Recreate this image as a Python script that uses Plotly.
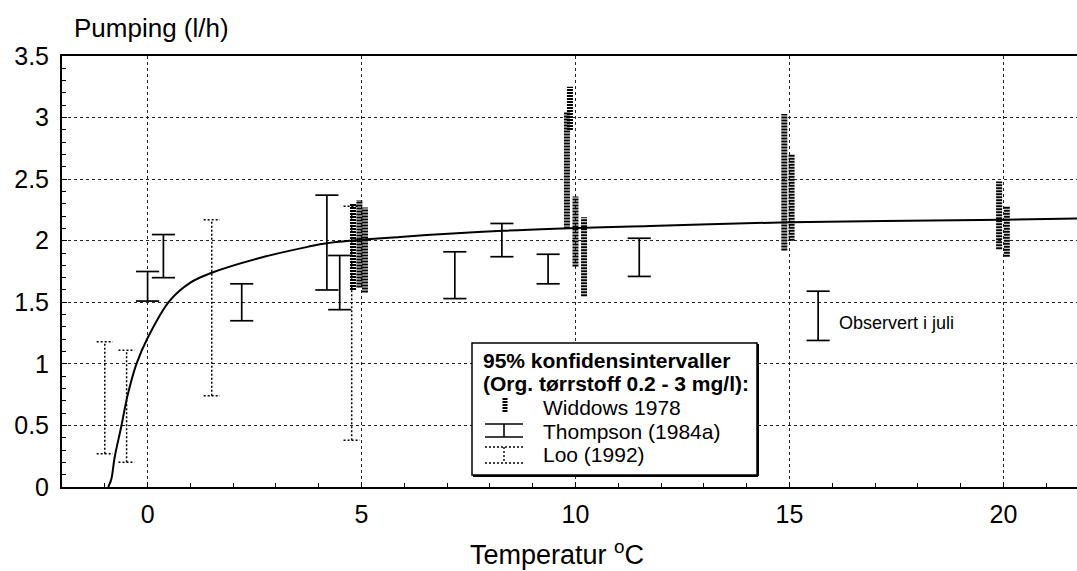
import plotly.graph_objects as go

# ---------------- data ----------------
# fitted curve
curve_x = [-0.92, -0.85, -0.77, -0.61, -0.47, -0.26, 0.0, 0.51, 1.0, 1.5, 2.62, 3.74, 4.19, 5.9, 8.3, 11.74, 15.0, 20.0, 21.72]
curve_y = [0.0, 0.06, 0.24, 0.50, 0.74, 1.00, 1.21, 1.51, 1.66, 1.74, 1.86, 1.95, 1.98, 2.03, 2.08, 2.12, 2.15, 2.17, 2.18]

# Widdows 1978 (dense hatched intervals)
widdows_x = [4.80, 4.95, 5.08, 9.80, 9.87, 10.00, 10.20, 14.88, 15.05, 19.90, 20.08]
widdows_lo = [1.60, 1.62, 1.58, 2.10, 2.90, 1.79, 1.55, 1.92, 2.00, 1.93, 1.87]
widdows_hi = [2.30, 2.33, 2.27, 3.05, 3.25, 2.36, 2.19, 3.03, 2.70, 2.48, 2.28]

# Thompson (1984a) solid intervals
thompson_x = [0.0, 0.37, 2.20, 4.19, 4.49, 7.18, 8.28, 9.36, 11.49]
thompson_lo = [1.51, 1.70, 1.35, 1.60, 1.44, 1.53, 1.87, 1.65, 1.71]
thompson_hi = [1.75, 2.05, 1.65, 2.37, 1.88, 1.91, 2.14, 1.89, 2.02]

# Loo (1992) dotted intervals
loo_x = [-1.00, -0.49, 1.50, 4.77]
loo_lo = [0.27, 0.20, 0.74, 0.38]
loo_hi = [1.18, 1.11, 2.17, 2.28]

# Observed in July
obs_x = [15.67]
obs_lo = [1.19]
obs_hi = [1.59]

x_ticks = [0, 5, 10, 15, 20]
x_tick_labels = ["0", "5", "10", "15", "20"]
y_ticks = [0, 0.5, 1, 1.5, 2, 2.5, 3, 3.5]
y_tick_labels = ["0", "0.5", "1", "1.5", "2", "2.5", "3", "3.5"]

# ---------------- styling ----------------
FONT = "Liberation Sans, Arial, Helvetica, sans-serif"
W, H = 1077, 571
ML, MR, MT, MB = 62, 0, 56, 84
PW, PH = W - ML - MR, H - MT - MB


def bars(xs, lo, hi, half):
    X, Y = [], []
    for x, a, b in zip(xs, lo, hi):
        X += [x, x, None, x - half, x + half, None, x - half, x + half, None]
        Y += [a, b, None, a, a, None, b, b, None]
    return X, Y


def stems(xs, lo, hi):
    X, Y = [], []
    for x, a, b in zip(xs, lo, hi):
        X += [x, x, None]
        Y += [a, b, None]
    return X, Y


fig = go.Figure()

# Loo dotted bars
lx, ly = bars(loo_x, loo_lo, loo_hi, 0.19)
fig.add_trace(go.Scatter(x=lx, y=ly, mode="lines", line=dict(color="black", width=1.5, dash="2px,2px"),
                         hoverinfo="skip", showlegend=False))

# Thompson solid bars
tx, ty = bars(thompson_x, thompson_lo, thompson_hi, 0.27)
fig.add_trace(go.Scatter(x=tx, y=ty, mode="lines", line=dict(color="black", width=1.7),
                         hoverinfo="skip", showlegend=False))

# Observed
ox, oy = bars(obs_x, obs_lo, obs_hi, 0.27)
fig.add_trace(go.Scatter(x=ox, y=oy, mode="lines", line=dict(color="black", width=1.7),
                         hoverinfo="skip", showlegend=False))

# Widdows hatched bars
wx, wy = stems(widdows_x, widdows_lo, widdows_hi)
fig.add_trace(go.Scatter(x=wx, y=wy, mode="lines", line=dict(color="black", width=6, dash="2px,1px"),
                         hoverinfo="skip", showlegend=False))

# Curve
fig.add_trace(go.Scatter(x=curve_x, y=curve_y, mode="lines", line=dict(color="black", width=2, shape="spline"),
                         hoverinfo="skip", showlegend=False))


def px(xp):
    return (xp - ML) / PW


def py(yp):
    return (MT + PH - yp) / PH


shapes = []
# legend box
shapes.append(dict(type="rect", xref="paper", yref="paper", x0=px(472), x1=px(757), y0=py(475), y1=py(343),
                   fillcolor="white", line=dict(color="black", width=1.5), layer="above"))
shapes.append(dict(type="line", xref="paper", yref="paper", x0=px(473), x1=px(758), y0=py(476), y1=py(476),
                   line=dict(color="black", width=2), layer="above"))
shapes.append(dict(type="line", xref="paper", yref="paper", x0=px(758), x1=px(758), y0=py(344), y1=py(476),
                   line=dict(color="black", width=2), layer="above"))
# Widdows symbol
shapes.append(dict(type="line", xref="paper", yref="paper", x0=px(505), x1=px(505), y0=py(398), y1=py(413),
                   line=dict(color="black", width=5, dash="2px,1px"), layer="above"))
# Thompson symbol
for seg in [((504, 424), (504, 437)), ((485, 424), (523, 424)), ((485, 437), (523, 437))]:
    shapes.append(dict(type="line", xref="paper", yref="paper", x0=px(seg[0][0]), x1=px(seg[1][0]),
                       y0=py(seg[0][1]), y1=py(seg[1][1]), line=dict(color="black", width=1.6), layer="above"))
# Loo symbol
for seg in [((504, 447), (504, 463)), ((485, 447), (523, 447)), ((485, 463), (523, 463))]:
    shapes.append(dict(type="line", xref="paper", yref="paper", x0=px(seg[0][0]), x1=px(seg[1][0]),
                       y0=py(seg[0][1]), y1=py(seg[1][1]), line=dict(color="black", width=1.4, dash="2px,2px"),
                       layer="above"))

annotations = [
    dict(text="<b>95% konfidensintervaller</b>", x=px(481), y=py(360), xref="paper", yref="paper",
         xanchor="left", yanchor="middle", showarrow=False, font=dict(family=FONT, size=21, color="black")),
    dict(text="<b>(Org. tørrstoff 0.2 - 3 mg/l):</b>", x=px(481), y=py(383), xref="paper", yref="paper",
         xanchor="left", yanchor="middle", showarrow=False, font=dict(family=FONT, size=21, color="black")),
    dict(text="Widdows 1978", x=px(541), y=py(407), xref="paper", yref="paper",
         xanchor="left", yanchor="middle", showarrow=False, font=dict(family=FONT, size=21, color="black")),
    dict(text="Thompson (1984a)", x=px(541), y=py(431), xref="paper", yref="paper",
         xanchor="left", yanchor="middle", showarrow=False, font=dict(family=FONT, size=21, color="black")),
    dict(text="Loo (1992)", x=px(541), y=py(454), xref="paper", yref="paper",
         xanchor="left", yanchor="middle", showarrow=False, font=dict(family=FONT, size=21, color="black")),
    dict(text="Observert i juli", x=px(837), y=py(323), xref="paper", yref="paper",
         xanchor="left", yanchor="middle", showarrow=False, font=dict(family=FONT, size=18, color="black")),
    dict(text="Pumping (l/h)", x=px(72), y=py(28), xref="paper", yref="paper",
         xanchor="left", yanchor="middle", showarrow=False, font=dict(family=FONT, size=26, color="black")),
    dict(text="Temperatur <sup>o</sup>C", x=px(557), y=py(553), xref="paper", yref="paper",
         xanchor="center", yanchor="middle", showarrow=False, font=dict(family=FONT, size=27, color="black")),
]

fig.update_layout(
    width=W, height=H, autosize=False,
    margin=dict(l=ML, r=MR, t=MT, b=MB, pad=0),
    paper_bgcolor="white", plot_bgcolor="white",
    shapes=shapes, annotations=annotations,
    showlegend=False,
    font=dict(family=FONT, color="black"),
)

fig.update_xaxes(
    range=[-2.0, 21.72], tickvals=x_ticks, ticktext=x_tick_labels,
    showgrid=True, gridcolor="#222", gridwidth=1, griddash="dot",
    showline=True, linecolor="black", linewidth=2, mirror=True,
    ticks="inside", ticklen=5, tickcolor="black",
    minor=dict(dtick=1, tick0=0, ticks="inside", ticklen=4, tickcolor="black", showgrid=False),
    zeroline=False, tickfont=dict(family=FONT, size=25, color="black"), ticklabelstandoff=4,
)
fig.update_yaxes(
    range=[0, 3.5], tickvals=y_ticks, ticktext=y_tick_labels,
    showgrid=True, gridcolor="#222", gridwidth=1, griddash="dot",
    showline=True, linecolor="black", linewidth=2, mirror=False,
    ticks="inside", ticklen=5, tickcolor="black",
    minor=dict(dtick=0.1, tick0=0, ticks="inside", ticklen=4, tickcolor="black", showgrid=False),
    zeroline=False, tickfont=dict(family=FONT, size=25, color="black"), ticklabelstandoff=6,
)

fig.write_html("out.html", config={"displayModeBar": False},
               post_script="document.body.style.margin='0';document.body.style.overflow='hidden';")
